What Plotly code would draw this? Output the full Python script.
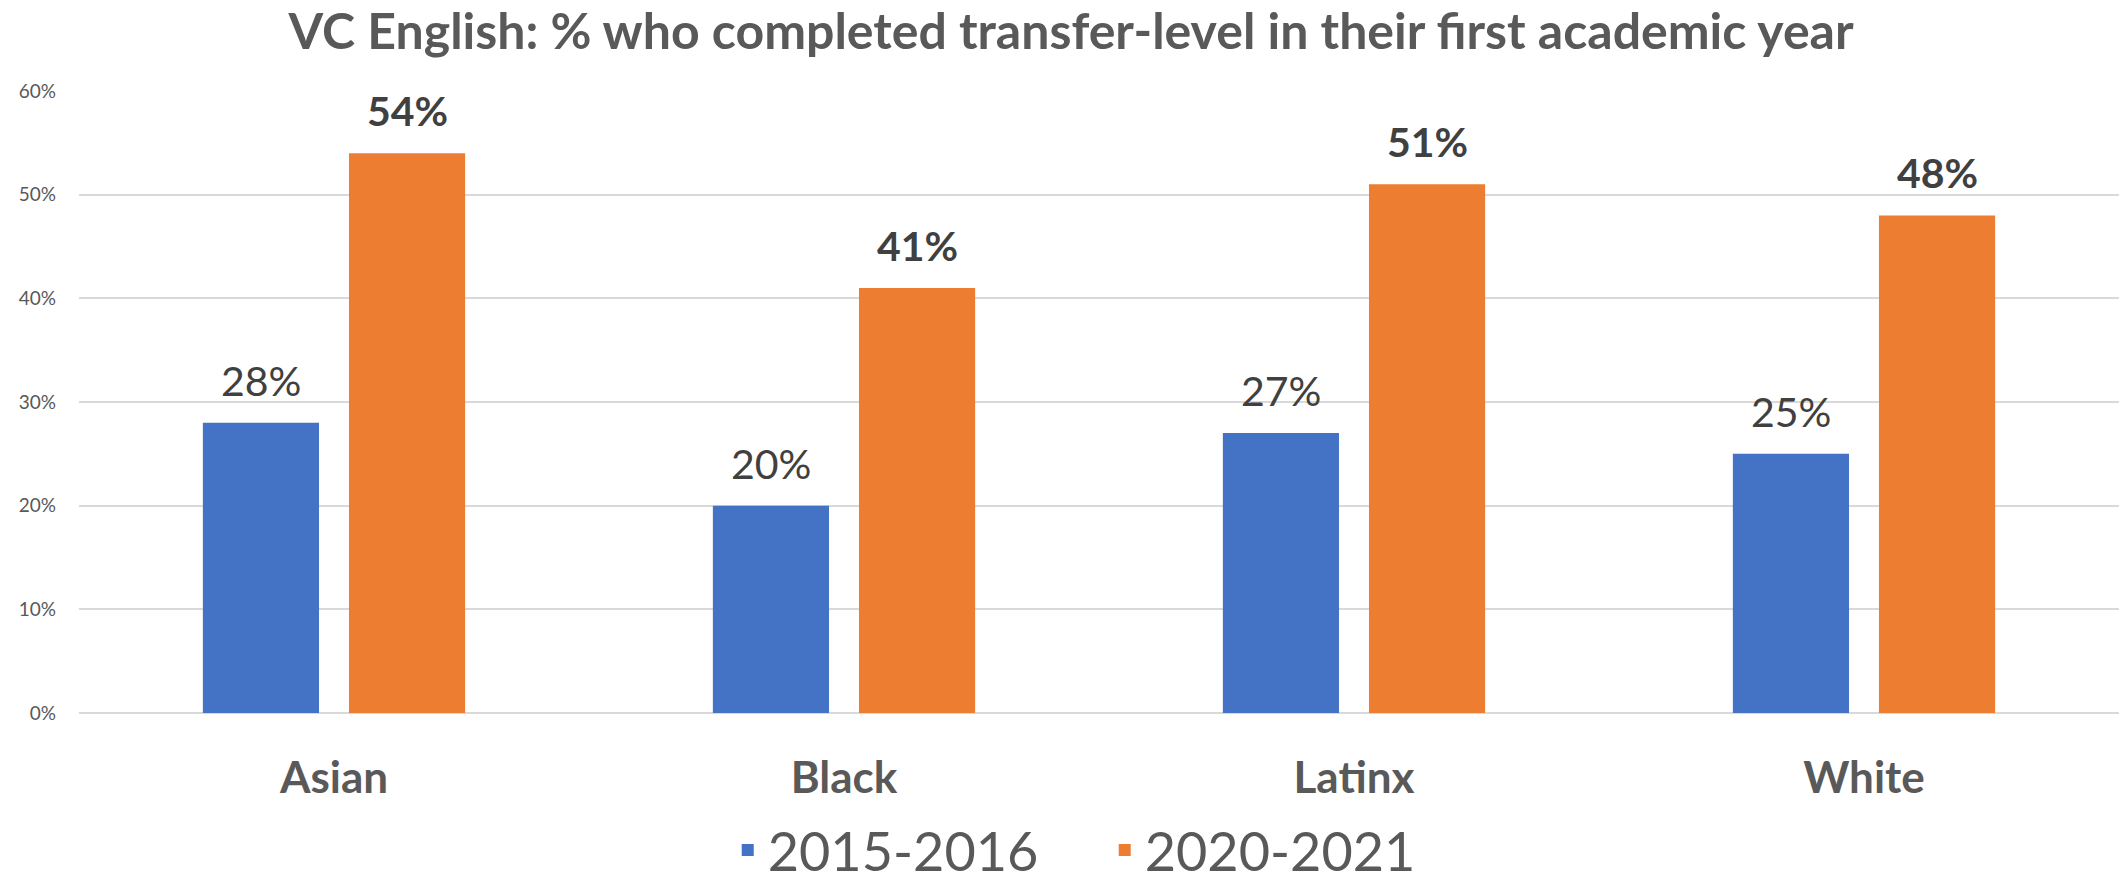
import plotly.graph_objects as go

categories = ["Asian", "Black", "Latinx", "White"]
series_names = ["2015-2016", "2020-2021"]
values_2015 = [0.28, 0.20, 0.27, 0.25]
values_2020 = [0.54, 0.41, 0.51, 0.48]
colors = ["#4472C4", "#ED7D31"]
y_ticks = [0, 0.1, 0.2, 0.3, 0.4, 0.5, 0.6]

W, H = 2121, 887
M_L, M_R, M_T, M_B = 79, 2, 91, 174
BARGAP, GROUPGAP = 0.427, 0.205
FONT = "Lato, 'Open Sans', sans-serif"

fig = go.Figure()
all_values = [values_2015, values_2020]
for name, vals, col in zip(series_names, all_values, colors):
    fig.add_trace(go.Bar(x=categories, y=vals, name=name, marker=dict(color=col, line=dict(width=0))))

# data labels placed through data coordinates
plot_w = W - M_L - M_R
slot = plot_w / len(categories) * (1 - BARGAP) / 2
for i, vals in enumerate(all_values):
    off = (i - 0.5) * slot
    for c, v in zip(categories, vals):
        fig.add_annotation(
            x=c, y=v, xref="x", yref="y", text=f"{round(v*100)}%",
            showarrow=False, xanchor="center", yanchor="bottom",
            xshift=off, yshift=16,
            font=dict(family=FONT, size=41, color="#404040",
                      weight="bold" if i == 1 else "normal"),
        )

fig.update_layout(
    width=W, height=H,
    margin=dict(l=M_L, r=M_R, t=M_T, b=M_B, pad=0, autoexpand=False),
    paper_bgcolor="white", plot_bgcolor="white",
    barmode="group", bargap=BARGAP, bargroupgap=GROUPGAP,
    title=dict(text="<b>VC English: % who completed transfer-level in their first academic year</b>",
               x=0.505, xref="container", xanchor="center",
               y=(H - 31) / H, yref="container", yanchor="middle",
               font=dict(family=FONT, size=50, color="#595959")),
    font=dict(family=FONT, color="#595959"),
    legend=dict(orientation="h", x=0.318, xanchor="left", y=-0.2207, yanchor="middle",
                font=dict(family=FONT, size=54, color="#595959"),
                itemwidth=30, entrywidth=332, entrywidthmode="pixels",
                tracegroupgap=0, bgcolor="rgba(0,0,0,0)"),
    showlegend=True,
)
fig.update_xaxes(showgrid=False, showline=False, ticks="", zeroline=False, automargin=False,
                 tickfont=dict(family=FONT, size=44, color="#595959", weight="bold"),
                 ticklabelstandoff=35)
fig.update_yaxes(range=[0, 0.6], tickvals=y_ticks, tickformat=".0%", automargin=False,
                 showgrid=True, gridcolor="#D9D9D9", gridwidth=1.5,
                 zeroline=True, zerolinecolor="#D9D9D9", zerolinewidth=1.5,
                 showline=False, ticks="",
                 tickfont=dict(family=FONT, size=19, color="#595959"),
                 ticklabelstandoff=22)

fig.write_html("out.html", config={"displayModeBar": False},
               post_script="document.body.style.margin='0';")
